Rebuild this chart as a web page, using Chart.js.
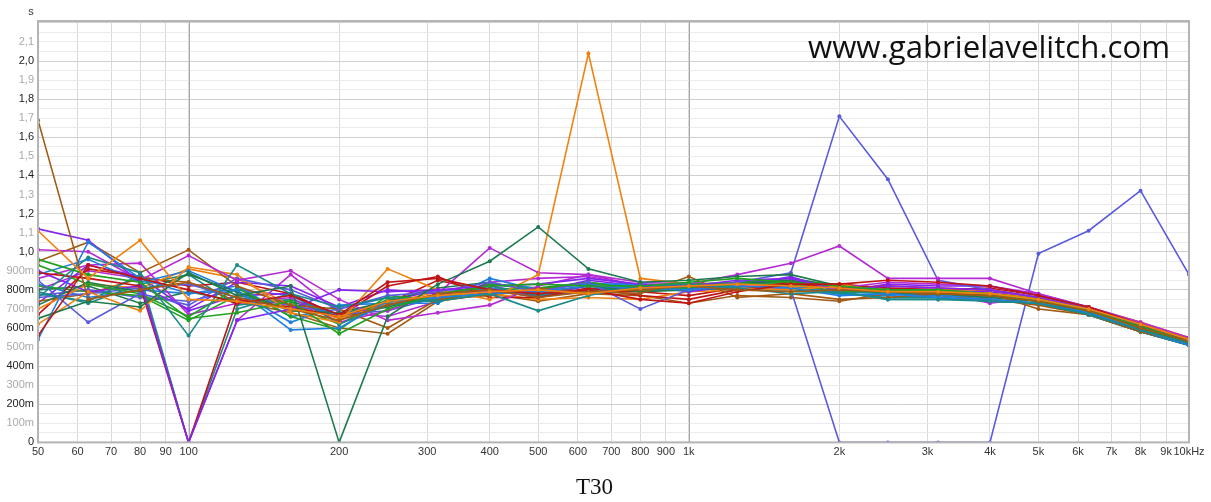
<!DOCTYPE html>
<html>
<head>
<meta charset="utf-8">
<script src="https://cdn.jsdelivr.net/npm/chart.js@4/dist/chart.umd.min.js"></script>
<style>
html, body { margin: 0; padding: 0; background: #fff; }
#wrap { width: 1211px; height: 502px; }
</style>
</head>
<body>
<div id="wrap"><canvas id="t30Chart"></canvas></div>
<script>
// 1/3 octave bands (Hz)
const bands = [50, 63, 80, 100, 125, 160, 200, 250, 315, 400, 500, 630, 800, 1000, 1250, 1600, 2000, 2500, 3150, 4000, 5000, 6300, 8000, 10000];

// x axis tick positions and labels
const xTickValues = [50, 60, 70, 80, 90, 100, 200, 300, 400, 500, 600, 700, 800, 900, 1000, 2000, 3000, 4000, 5000, 6000, 7000, 8000, 9000, 10000];
const xTickLabels = ['50', '60', '70', '80', '90', '100', '200', '300', '400', '500', '600', '700', '800', '900', '1k', '2k', '3k', '4k', '5k', '6k', '7k', '8k', '9k', '10kHz'];
const xDecades = [100, 1000];

// y axis labels (every 0.1 s)
const yTickLabels = ['0', '100m', '200m', '300m', '400m', '500m', '600m', '700m', '800m', '900m',
    '1,0', '1,1', '1,2', '1,3', '1,4', '1,5', '1,6', '1,7', '1,8', '1,9', '2,0', '2,1'];

// T30 per measurement position (s)
const pos01 = [1.11, 0.86, 1.06, 0.75, 0.74, 0.70, 0.66, 0.74, 0.77, 0.79, 0.80, 0.78, 0.81, 0.82, 0.83, 0.82, 0.81, 0.79, 0.79, 0.78, 0.75, 0.70, 0.62, 0.54];
const pos02 = [1.69, 0.75, 0.80, 0.84, 0.76, 0.70, 0.64, 0.72, 0.78, 0.80, 0.76, 0.79, 0.80, 0.82, 0.80, 0.79, 0.80, 0.79, 0.78, 0.77, 0.74, 0.69, 0.60, 0.53];
const pos03 = [0.56, 0.93, 0.86, 0.80, 0.73, 0.77, 0.67, 0.84, 0.86, 0.80, 0.78, 0.80, 0.75, 0.73, 0.79, 0.83, 0.83, 0.85, 0.84, 0.82, 0.77, 0.71, 0.62, 0.54];
const pos04 = [0.96, 0.88, 0.84, 0.65, 0.68, 0.74, 0.57, 0.70, 0.78, 0.82, 0.83, 0.82, 0.82, 0.84, 0.86, 0.84, 0.82, 0.80, 0.80, 0.78, 0.75, 0.69, 0.61, 0.53];
const pos05 = [0.65, 0.74, 0.71, 0.89, 0.77, 0.82, 0.00, 0.66, 0.83, 0.95, 1.13, 0.91, 0.84, 0.85, 0.87, 0.88, 0.82, 0.79, 0.78, 0.77, 0.75, 0.70, 0.60, 0.53];
const pos06 = [0.76, 0.97, 0.89, 0.56, 0.93, 0.78, 0.71, 0.76, 0.74, 0.78, 0.69, 0.77, 0.82, 0.83, 0.81, 0.78, 0.79, 0.75, 0.75, 0.74, 0.73, 0.67, 0.59, 0.52];
const pos07 = [0.54, 1.05, 0.86, 0.78, 0.80, 0.59, 0.60, 0.74, 0.76, 0.78, 0.79, 0.82, 0.81, 0.80, 0.82, 0.81, 0.77, 0.78, 0.76, 0.75, 0.73, 0.68, 0.59, 0.51];
const pos08 = [1.12, 1.06, 0.84, 0.00, 0.64, 0.70, 0.80, 0.79, 0.80, 0.82, 0.83, 0.86, 0.83, 0.82, 0.85, 0.86, 0.80, 0.82, 0.81, 0.80, 0.76, 0.70, 0.61, 0.53];
const pos09 = [1.01, 1.00, 0.85, 0.98, 0.85, 0.90, 0.75, 0.64, 0.68, 0.72, 0.82, 0.88, 0.84, 0.83, 0.88, 0.94, 1.03, 0.86, 0.86, 0.86, 0.78, 0.71, 0.63, 0.55];
const pos10 = [0.85, 0.63, 0.78, 0.72, 0.86, 0.80, 0.70, 0.77, 0.79, 0.84, 0.79, 0.84, 0.70, 0.80, 0.84, 0.89, 1.71, 1.38, 0.85, 0.80, 0.76, 0.70, 0.61, 0.53];
const pos11 = [0.62, 0.79, 0.69, 0.92, 0.88, 0.68, 0.63, 0.91, 0.80, 0.75, 0.88, 2.04, 0.86, 0.83, 0.81, 0.80, 0.82, 0.80, 0.79, 0.78, 0.76, 0.70, 0.63, 0.54];
const pos12 = [0.95, 1.05, 0.89, 1.01, 0.82, 0.72, 0.70, 0.60, 0.75, 0.77, 0.81, 0.79, 0.78, 0.87, 0.76, 0.78, 0.75, 0.76, 0.78, 0.78, 0.70, 0.67, 0.58, 0.52];
const pos13 = [0.89, 0.86, 0.82, 0.00, 0.75, 0.71, 0.66, 0.82, 0.87, 0.76, 0.76, 0.81, 0.77, 0.75, 0.80, 0.84, 0.81, 0.82, 0.81, 0.80, 0.76, 0.70, 0.62, 0.54];
const pos14 = [0.93, 0.83, 0.78, 0.66, 0.81, 0.66, 0.59, 0.77, 0.74, 0.83, 0.80, 0.84, 0.80, 0.81, 0.83, 0.83, 0.79, 0.79, 0.78, 0.77, 0.74, 0.69, 0.60, 0.52];
const pos15 = [0.72, 0.84, 0.79, 0.88, 0.79, 0.69, 0.68, 0.74, 0.81, 0.84, 0.79, 0.82, 0.79, 0.80, 0.83, 0.85, 0.81, 0.78, 0.78, 0.76, 0.74, 0.68, 0.59, 0.52];
const pos16 = [0.78, 0.74, 0.88, 0.00, 0.70, 0.78, 0.62, 0.72, 0.75, 0.82, 0.77, 0.80, 0.80, 0.81, 0.80, 0.80, 0.78, 0.76, 0.76, 0.74, 0.73, 0.67, 0.58, 0.51];
const pos17 = [0.88, 0.96, 0.84, 0.90, 0.79, 0.63, 0.72, 0.73, 0.73, 0.86, 0.80, 0.83, 0.83, 0.82, 0.81, 0.82, 0.79, 0.78, 0.77, 0.76, 0.74, 0.68, 0.59, 0.51];
const pos18 = [0.90, 0.79, 0.82, 0.70, 0.84, 0.82, 0.71, 0.80, 0.78, 0.79, 0.79, 0.85, 0.82, 0.79, 0.82, 0.87, 0.79, 0.83, 0.82, 0.82, 0.77, 0.70, 0.61, 0.53];
const pos19 = [0.86, 0.93, 0.94, 0.67, 0.73, 0.76, 0.63, 0.69, 0.78, 1.02, 0.89, 0.88, 0.82, 0.80, 0.82, 0.82, 0.81, 0.84, 0.83, 0.82, 0.78, 0.71, 0.62, 0.54];
const pos20 = [0.76, 0.78, 0.81, 0.83, 0.76, 0.72, 0.67, 0.69, 0.76, 0.81, 0.76, 0.80, 0.81, 0.80, 0.82, 0.80, 0.00, 0.00, 0.00, 0.00, 0.99, 1.11, 1.32, 0.88];
const pos21 = [0.70, 0.83, 0.81, 0.91, 0.86, 0.72, 0.65, 0.73, 0.79, 0.78, 0.75, 0.76, 0.75, 0.79, 0.80, 0.81, 0.83, 0.79, 0.80, 0.80, 0.76, 0.71, 0.63, 0.55];
const pos22 = [0.74, 0.78, 0.86, 0.84, 0.74, 0.68, 0.60, 0.57, 0.74, 0.78, 0.74, 0.78, 0.77, 0.73, 0.77, 0.76, 0.74, 0.78, 0.77, 0.75, 0.72, 0.67, 0.58, 0.51];
const pos23 = [0.67, 0.91, 0.87, 0.82, 0.84, 0.78, 0.66, 0.73, 0.85, 0.79, 0.77, 0.79, 0.79, 0.77, 0.81, 0.82, 0.83, 0.81, 0.80, 0.81, 0.77, 0.71, 0.62, 0.54];
const pos24 = [0.82, 0.79, 0.77, 0.64, 0.77, 0.72, 0.62, 0.75, 0.76, 0.80, 0.81, 0.83, 0.82, 0.83, 0.84, 0.84, 0.83, 0.80, 0.79, 0.78, 0.75, 0.69, 0.61, 0.53];
const pos25 = [0.80, 0.82, 0.73, 0.79, 0.74, 0.74, 0.66, 0.71, 0.77, 0.83, 0.81, 0.84, 0.81, 0.82, 0.84, 0.86, 0.82, 0.80, 0.79, 0.77, 0.75, 0.69, 0.60, 0.52];
const pos26 = [0.79, 0.73, 0.83, 0.88, 0.72, 0.75, 0.67, 0.74, 0.74, 0.80, 0.76, 0.81, 0.80, 0.80, 0.81, 0.81, 0.79, 0.75, 0.75, 0.75, 0.73, 0.67, 0.58, 0.51];
const pos27 = [0.83, 0.76, 0.80, 0.78, 0.82, 0.66, 0.70, 0.76, 0.74, 0.81, 0.78, 0.80, 0.81, 0.81, 0.80, 0.82, 0.78, 0.77, 0.76, 0.74, 0.73, 0.67, 0.58, 0.51];
const pos28 = [0.73, 0.93, 0.87, 0.69, 0.77, 0.78, 0.66, 0.74, 0.80, 0.80, 0.77, 0.82, 0.81, 0.80, 0.84, 0.85, 0.78, 0.81, 0.80, 0.79, 0.76, 0.69, 0.61, 0.53];
const pos29 = [0.80, 0.90, 0.86, 0.00, 0.64, 0.88, 0.68, 0.66, 0.74, 0.84, 0.86, 0.87, 0.82, 0.81, 0.84, 0.82, 0.78, 0.80, 0.79, 0.73, 0.76, 0.70, 0.62, 0.54];
const pos30 = [0.77, 0.80, 0.76, 0.74, 0.80, 0.77, 0.65, 0.72, 0.77, 0.82, 0.78, 0.82, 0.80, 0.80, 0.83, 0.84, 0.80, 0.79, 0.78, 0.77, 0.75, 0.69, 0.60, 0.52];

const positions = [pos01, pos02, pos03, pos04, pos05, pos06, pos07, pos08, pos09, pos10,
    pos11, pos12, pos13, pos14, pos15, pos16, pos17, pos18, pos19, pos20,
    pos21, pos22, pos23, pos24, pos25, pos26, pos27, pos28, pos29, pos30];

const palette = ['#f0820f', '#a15a14', '#c01414', '#22a022', '#1d7a4e', '#1a8a8a', '#1f7fe0', '#8424f0', '#b42bd4', '#5a5adf'];

const datasets = positions.map((vals, i) => ({
    label: 'P' + (i + 1),
    data: vals.map((v, j) => ({ x: bands[j], y: v })),
    borderColor: palette[i % palette.length],
    backgroundColor: palette[i % palette.length],
    borderWidth: 1.6,
    pointRadius: 2,
    pointBorderWidth: 0,
    tension: 0
}));

// solid decade lines under the data
const decadePlugin = {
    id: 'decades',
    beforeDatasetsDraw(chart) {
        const { ctx, chartArea: a, scales } = chart;
        ctx.save();
        ctx.strokeStyle = '#a8a8a8';
        ctx.lineWidth = 1;
        xDecades.forEach(f => {
            const x = Math.round(scales.x.getPixelForValue(f)) + 0.5;
            ctx.beginPath();
            ctx.moveTo(x, a.top);
            ctx.lineTo(x, a.bottom);
            ctx.stroke();
        });
        ctx.restore();
    }
};

// frame, unit and watermark
const decorPlugin = {
    id: 'decor',
    afterDraw(chart) {
        const { ctx, chartArea: a } = chart;
        ctx.save();
        ctx.strokeStyle = '#b4b4b4';
        ctx.lineWidth = 2;
        ctx.strokeRect(a.left, a.top, a.right - a.left, a.bottom - a.top);

        ctx.fillStyle = '#333';
        ctx.font = "11px 'Liberation Sans', Arial, sans-serif";
        ctx.textAlign = 'center';
        ctx.textBaseline = 'alphabetic';
        ctx.fillText('s', 31, 15);

        const txt = 'www.gabrielavelitch.com';
        ctx.font = "30px 'Open Sans', sans-serif";
        const w = ctx.measureText(txt).width;
        const size = 30 * 362 / w;
        ctx.font = size.toFixed(1) + "px 'Open Sans', sans-serif";
        ctx.fillStyle = '#111';
        ctx.textAlign = 'left';
        ctx.fillText(txt, 808, 58);
        ctx.restore();
    }
};

new Chart(document.getElementById('t30Chart').getContext('2d'), {
    type: 'line',
    data: { datasets: datasets },
    options: {
        responsive: true,
        maintainAspectRatio: false,
        animation: false,
        layout: { padding: { top: 21, right: 22, left: 0, bottom: 0 } },
        plugins: {
            legend: { display: false },
            tooltip: { enabled: false },
            title: {
                display: true,
                text: 'T30',
                position: 'bottom',
                color: '#111',
                font: { family: "'Liberation Serif', 'Times New Roman', serif", size: 23, weight: 'normal' },
                padding: { top: 17, bottom: 0 }
            }
        },
        scales: {
            x: {
                type: 'logarithmic',
                min: 50,
                max: 10000,
                afterBuildTicks: (scale) => {
                    scale.ticks = xTickValues.map(v => ({ value: v }));
                },
                afterFit: (scale) => { scale.height = 15; },
                grid: {
                    color: '#dadada',
                    lineWidth: 1,
                    drawTicks: false
                },
                border: { display: false },
                ticks: {
                    autoSkip: false,
                    maxRotation: 0,
                    padding: 3,
                    color: '#333',
                    font: { family: "'Liberation Sans', Arial, sans-serif", size: 11 },
                    callback: (value) => {
                        const k = xTickValues.indexOf(value);
                        return k >= 0 ? xTickLabels[k] : '';
                    }
                }
            },
            y: {
                type: 'linear',
                min: 0,
                max: 2.21,
                afterBuildTicks: (scale) => {
                    const t = [];
                    for (let i = 0; i <= 44; i++) t.push({ value: i * 0.05 });
                    scale.ticks = t;
                },
                afterFit: (scale) => { scale.width = 38; },
                grid: {
                    color: (c) => {
                        const i = Math.round(c.tick.value / 0.05);
                        return i % 4 === 0 ? '#d0d0d0' : '#ebebeb';
                    },
                    lineWidth: 1,
                    drawTicks: false
                },
                border: { display: false },
                ticks: {
                    padding: 4,
                    autoSkip: false,
                    color: (c) => {
                        const i = Math.round(c.tick.value / 0.05);
                        return i % 4 === 0 ? '#222' : '#aaa';
                    },
                    font: { family: "'Liberation Sans', Arial, sans-serif", size: 11 },
                    callback: (value) => {
                        const i = Math.round(value / 0.05);
                        if (i % 2 !== 0) return '';
                        return yTickLabels[i / 2] || '';
                    }
                }
            }
        }
    },
    plugins: [decadePlugin, decorPlugin]
});
</script>
</body>
</html>
